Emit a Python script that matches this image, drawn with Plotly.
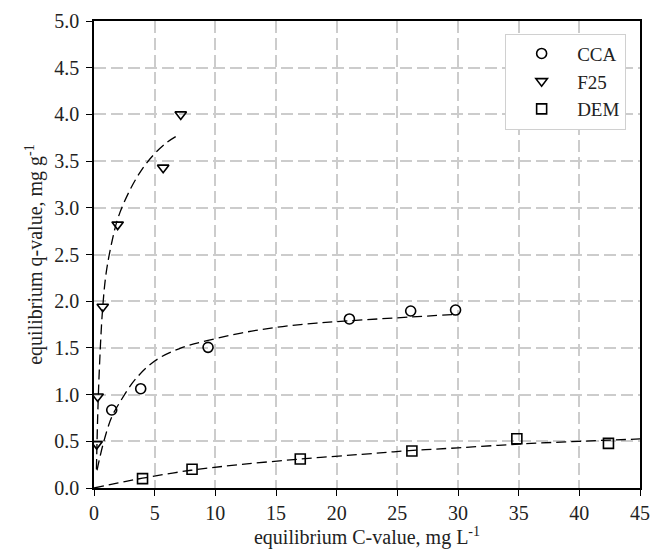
import plotly.graph_objects as go

# Measured data
cca_c = [1.46, 3.85, 9.4, 21.05, 26.1, 29.8]
cca_q = [0.835, 1.063, 1.506, 1.81, 1.895, 1.905]
f25_c = [0.22, 0.30, 0.72, 1.95, 5.7, 7.15]
f25_q = [0.47, 0.98, 1.94, 2.82, 3.43, 4.0]
dem_c = [4.0, 8.08, 17.0, 26.2, 34.85, 42.4]
dem_q = [0.10, 0.20, 0.31, 0.396, 0.528, 0.478]

# Fitted curves
cca_fit_c = [0.25, 0.77, 1.46, 2.14, 3.38, 5.0, 7.0, 9.4, 13.0, 17.0, 21.0, 26.0, 29.9]
cca_fit_q = [0.19, 0.48, 0.76, 0.92, 1.16, 1.36, 1.49, 1.58, 1.68, 1.75, 1.79, 1.83, 1.86]
f25_fit_c = [0.2, 0.3, 0.45, 0.7, 1.0, 1.5, 2.0, 3.0, 4.0, 5.0, 6.0, 7.1]
f25_fit_q = [0.2, 0.75, 1.3, 1.9, 2.3, 2.65, 2.9, 3.2, 3.42, 3.58, 3.70, 3.79]
dem_fit_c = [0, 2, 4, 8, 12, 17, 22, 26, 30, 35, 40, 45]
dem_fit_q = [0, 0.055, 0.105, 0.19, 0.25, 0.31, 0.36, 0.40, 0.43, 0.47, 0.50, 0.525]

x_ticks = [0, 5, 10, 15, 20, 25, 30, 35, 40, 45]
y_ticks = [0.0, 0.5, 1.0, 1.5, 2.0, 2.5, 3.0, 3.5, 4.0, 4.5, 5.0]

FONT = "Liberation Serif"

fig = go.Figure()
fit_line = dict(color="black", width=1.3, dash="10px,5px")
for c, q in [(cca_fit_c, cca_fit_q), (f25_fit_c, f25_fit_q), (dem_fit_c, dem_fit_q)]:
    fig.add_trace(go.Scatter(x=c, y=q, mode="lines", line=fit_line,
                             line_shape="spline", showlegend=False, hoverinfo="skip"))

mk = dict(color="black", size=10, line=dict(color="black", width=1.6))
fig.add_trace(go.Scatter(x=cca_c, y=cca_q, mode="markers", name="CCA",
                         marker=dict(mk, symbol="circle-open")))
fig.add_trace(go.Scatter(x=f25_c, y=f25_q, mode="markers", name="F25",
                         marker=dict(mk, symbol="triangle-down-open")))
fig.add_trace(go.Scatter(x=dem_c, y=dem_q, mode="markers", name="DEM",
                         marker=dict(mk, symbol="square-open")))

axis_common = dict(
    showline=True, linecolor="black", linewidth=1.5, mirror=True,
    ticks="outside", ticklen=6, tickcolor="black", tickwidth=1.2,
    showgrid=True, gridcolor="#cccccc", gridwidth=1.5, griddash="12px,5px",
    zeroline=False, automargin=False, ticklabeloverflow="allow",
    tickfont=dict(family=FONT, size=20, color="#222"),
)

fig.update_layout(
    width=651, height=558,
    margin=dict(l=94, r=11, t=21, b=70),
    paper_bgcolor="white", plot_bgcolor="white",
    font=dict(family=FONT, size=20, color="#222"),
    xaxis=dict(axis_common, range=[0, 45], tickvals=x_ticks,
               ticktext=[str(v) for v in x_ticks],
               title=dict(text="equilibrium C-value, mg L<sup>-1</sup>",
                          font=dict(family=FONT, size=20), standoff=2)),
    yaxis=dict(axis_common, range=[0, 5], tickvals=y_ticks,
               ticktext=[f"{v:.1f}" for v in y_ticks], ticklabelstandoff=3,
               title=dict(text="equilibrium q-value, mg g<sup>-1</sup>",
                          font=dict(family=FONT, size=20), standoff=6)),
    legend=dict(x=0.753, y=0.973, xanchor="left", yanchor="top",
                bgcolor="white", bordercolor="#d0d0d0", borderwidth=1,
                font=dict(family=FONT, size=19), itemwidth=61),
)

fig.write_html("out.html", config={"displayModeBar": False},
               post_script="document.body.style.margin='0';"
                           "document.body.style.overflow='hidden';")
